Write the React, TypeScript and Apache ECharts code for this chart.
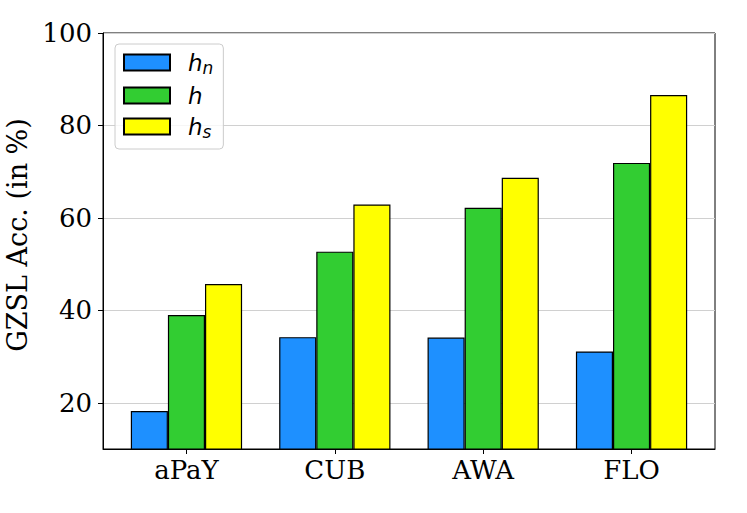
import React, { useEffect, useRef } from "react";
import * as echarts from "echarts";

const categories = ["aPaY", "CUB", "AWA", "FLO"];
const seriesNames = ["hn", "h", "hs"];
const seriesSubs = ["n", "", "s"];
const hnValues = [18.2, 34.2, 34.1, 31.1];
const hValues = [39.0, 52.7, 62.2, 71.9];
const hsValues = [45.7, 62.9, 68.7, 86.6];
const seriesColors = ["#1E90FF", "#32CD32", "#FFFF00"];
const yTicks = [20, 40, 60, 80, 100];
const barOffsets = [-0.25, 0, 0.25];

export default function App() {
  const ref = useRef<HTMLDivElement>(null);
  useEffect(() => {
    if (!ref.current) return;
    const chart = echarts.init(ref.current, null, { renderer: "svg" });
    const allValues = [hnValues, hValues, hsValues];
    const catIdx = categories.map((_, i) => i);
    const serif = "DejaVu Serif";
    chart.setOption({
      animation: false,
      backgroundColor: "#fff",
      grid: {
        left: 103,
        top: 33,
        right: 32,
        bottom: 64,
        containLabel: false,
        outerBoundsMode: "none",
        show: true,
        borderColor: "#000",
        borderWidth: 1,
        backgroundColor: "transparent",
      },
      legend: {
        orient: "vertical",
        left: 115,
        top: 44,
        itemWidth: 46,
        itemHeight: 16,
        itemGap: 8,
        padding: [7, 10, 9, 8],
        backgroundColor: "rgba(255,255,255,0.8)",
        borderColor: "#cccccc",
        borderWidth: 1,
        borderRadius: 4,
        icon: "rect",
        data: seriesNames,
        formatter: (name: string) => {
          const i = seriesNames.indexOf(name);
          const sub = seriesSubs[i];
          return sub ? `{i|h}{s|${sub}}` : `{i|h}`;
        },
        textStyle: {
          color: "#000",
          padding: [0, 0, 0, 13],
          rich: {
            i: {
              fontFamily: "DejaVu Sans",
              fontStyle: "italic",
              fontSize: 23,
              lineHeight: 20,
              height: 20,
              color: "#000",
            },
            s: {
              fontFamily: "DejaVu Sans",
              fontStyle: "italic",
              fontSize: 17,
              lineHeight: 10,
              height: 10,
              verticalAlign: "bottom",
              color: "#000",
            },
          },
        },
      },
      xAxis: {
        type: "value",
        min: -0.5625,
        max: 3.5625,
        splitLine: { show: false },
        axisLine: { show: true, onZero: false, lineStyle: { color: "#000", width: 1 } },
        axisTick: {
          show: true,
          customValues: catIdx,
          length: 5,
          lineStyle: { color: "#000", width: 1 },
        },
        axisLabel: {
          customValues: catIdx,
          formatter: (v: number) => categories[Math.round(v)] ?? "",
          fontFamily: serif,
          fontSize: 26,
          color: "#000",
          margin: 8,
        },
      },
      yAxis: {
        type: "value",
        min: 10,
        max: 100,
        name: "GZSL Acc. (in %)",
        nameLocation: "middle",
        nameGap: 61,
        nameTextStyle: {
          fontFamily: serif,
          fontSize: 27,
          color: "#000",
          padding: [0, 0, 0, 12],
        },
        axisLine: { show: true, onZero: false, lineStyle: { color: "#000", width: 1 } },
        axisTick: {
          show: true,
          customValues: yTicks,
          length: 5,
          lineStyle: { color: "#000", width: 1 },
        },
        axisLabel: {
          customValues: yTicks,
          fontFamily: serif,
          fontSize: 26,
          color: "#000",
          margin: 11,
        },
        splitLine: {
          show: true,
          lineStyle: { color: "#d0d0d0", width: 1 },
        },
      },
      series: seriesNames.map((name, si) => ({
        name,
        type: "bar",
        barWidth: "100%",
        barGap: "-100%",
        data: allValues[si].map((v, ci) => [ci + barOffsets[si], v]),
        itemStyle: {
          color: seriesColors[si],
          borderColor: "#000",
          borderWidth: 1.2,
        },
      })),
    });
    return () => chart.dispose();
  }, []);
  return (
    <div
      ref={ref}
      style={{ position: "fixed", left: 0, top: 0, width: 747, height: 513 }}
    />
  );
}
